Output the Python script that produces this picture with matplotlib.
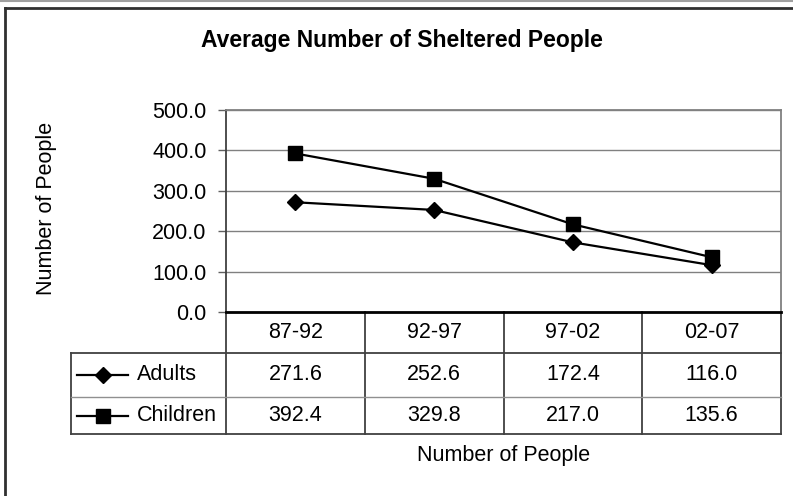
import matplotlib
matplotlib.use("Agg")
import matplotlib.pyplot as plt
import matplotlib.transforms as mtransforms
from matplotlib.lines import Line2D

plt.rcParams['font.family'] = ['Liberation Sans', 'DejaVu Sans']

# Data
periods = ['87-92', '92-97', '97-02', '02-07']
adults = [271.6, 252.6, 172.4, 116.0]
children = [392.4, 329.8, 217.0, 135.6]
series_names = ['Adults', 'Children']
y_ticks = [0, 100, 200, 300, 400, 500]

FS = 15.5

W, H = 793, 496
fig = plt.figure(figsize=(W / 100, H / 100), dpi=100)

# axes placed in pixel terms
left, right, top, bottom = 226, 781, 110, 312
ax = fig.add_axes([left / W, 1 - bottom / H, (right - left) / W, (bottom - top) / H])

x = list(range(len(periods)))
ax.plot(x, adults, color='black', lw=1.6, marker='D', markersize=8, zorder=3)
ax.plot(x, children, color='black', lw=1.6, marker='s', markersize=9.5, zorder=3)

ax.set_xlim(-0.5, len(periods) - 0.5)
ax.set_ylim(0, 500)
ax.set_yticks(y_ticks)
ax.set_yticklabels([f'{v:.1f}' for v in y_ticks], fontsize=FS)
ax.set_xticks([])
ax.tick_params(axis='y', length=6, width=1, color='#606060', pad=8)
ax.yaxis.grid(True, color='#808080', lw=1.0)
ax.set_axisbelow(True)

ax.spines['left'].set_color('#404040')
ax.spines['left'].set_linewidth(1.3)
ax.spines['bottom'].set_color('black')
ax.spines['bottom'].set_linewidth(2)
ax.spines['top'].set_color('#808080')
ax.spines['top'].set_linewidth(1.3)
ax.spines['right'].set_color('#808080')
ax.spines['right'].set_linewidth(1.3)

# data table under the axis (x in data units, y in axes units)
trans = mtransforms.blended_transform_factory(ax.transData, ax.transAxes)
ph = bottom - top
def ay(py):
    return (bottom - py) / ph

unit = (right - left) / len(periods)
def dx(px):
    return -0.5 + (px - left) / unit

row_edges = [ay(312), ay(353), ay(397), ay(434)]
x_leg = dx(71)
x_end = len(periods) - 0.5
grid_dark = '#404040'

# vertical lines between columns
for b in [i - 0.5 for i in range(len(periods) + 1)]:
    ax.add_line(Line2D([b, b], [row_edges[0], row_edges[3]], transform=trans,
                       color=grid_dark, lw=1.3, clip_on=False))
ax.add_line(Line2D([x_leg, x_leg], [row_edges[1], row_edges[3]], transform=trans,
                   color=grid_dark, lw=1.3, clip_on=False))
ax.add_line(Line2D([x_leg, x_end], [row_edges[1]] * 2, transform=trans,
                   color=grid_dark, lw=1.3, clip_on=False))
ax.add_line(Line2D([x_leg, x_end], [row_edges[2]] * 2, transform=trans,
                   color='#909090', lw=1.0, clip_on=False))
ax.add_line(Line2D([x_leg, x_end], [row_edges[3]] * 2, transform=trans,
                   color=grid_dark, lw=1.3, clip_on=False))

# header row
for i, p in enumerate(periods):
    ax.text(i, (row_edges[0] + row_edges[1]) / 2, p, transform=trans,
            ha='center', va='center', fontsize=FS)

# value rows with legend keys
key_x0, key_x1 = dx(77), dx(128)
key_xm = (key_x0 + key_x1) / 2
text_x = dx(137)
markers = ['D', 's']
msizes = [8, 9.5]
for r, (name, vals) in enumerate(zip(series_names, [adults, children])):
    yc = (row_edges[r + 1] + row_edges[r + 2]) / 2
    ax.add_line(Line2D([key_x0, key_x1], [yc, yc], transform=trans,
                       color='black', lw=1.6, clip_on=False))
    ax.add_line(Line2D([key_xm], [yc], transform=trans, color='black',
                       marker=markers[r], markersize=msizes[r], clip_on=False))
    ax.text(text_x, yc, name, transform=trans, ha='left', va='center', fontsize=FS)
    for i, v in enumerate(vals):
        ax.text(i, yc, f'{v:.1f}', transform=trans, ha='center', va='center', fontsize=FS)

# axis titles
ax.text(len(periods) / 2 - 0.5, ay(456), 'Number of People', transform=trans,
        ha='center', va='center', fontsize=FS)
fig.text(47 / W, 1 - 208 / H, 'Number of People', rotation=90,
         ha='center', va='center', fontsize=FS)
fig.text(402 / W, 1 - 40 / H, 'Average Number of Sheltered People',
         ha='center', va='center', fontsize=16.5, fontweight='bold')

# outer frame
fig.add_artist(Line2D([0, 1], [1 - 0.5 / H] * 2, transform=fig.transFigure,
                      color='#a0a0a0', lw=1.5))
fig.add_artist(Line2D([4.5 / W, 1], [1 - 8 / H] * 2, transform=fig.transFigure,
                      color='#303030', lw=2))
fig.add_artist(Line2D([4.5 / W] * 2, [0, 1 - 8 / H], transform=fig.transFigure,
                      color='#303030', lw=2))

fig.savefig('out.png', dpi=100)
